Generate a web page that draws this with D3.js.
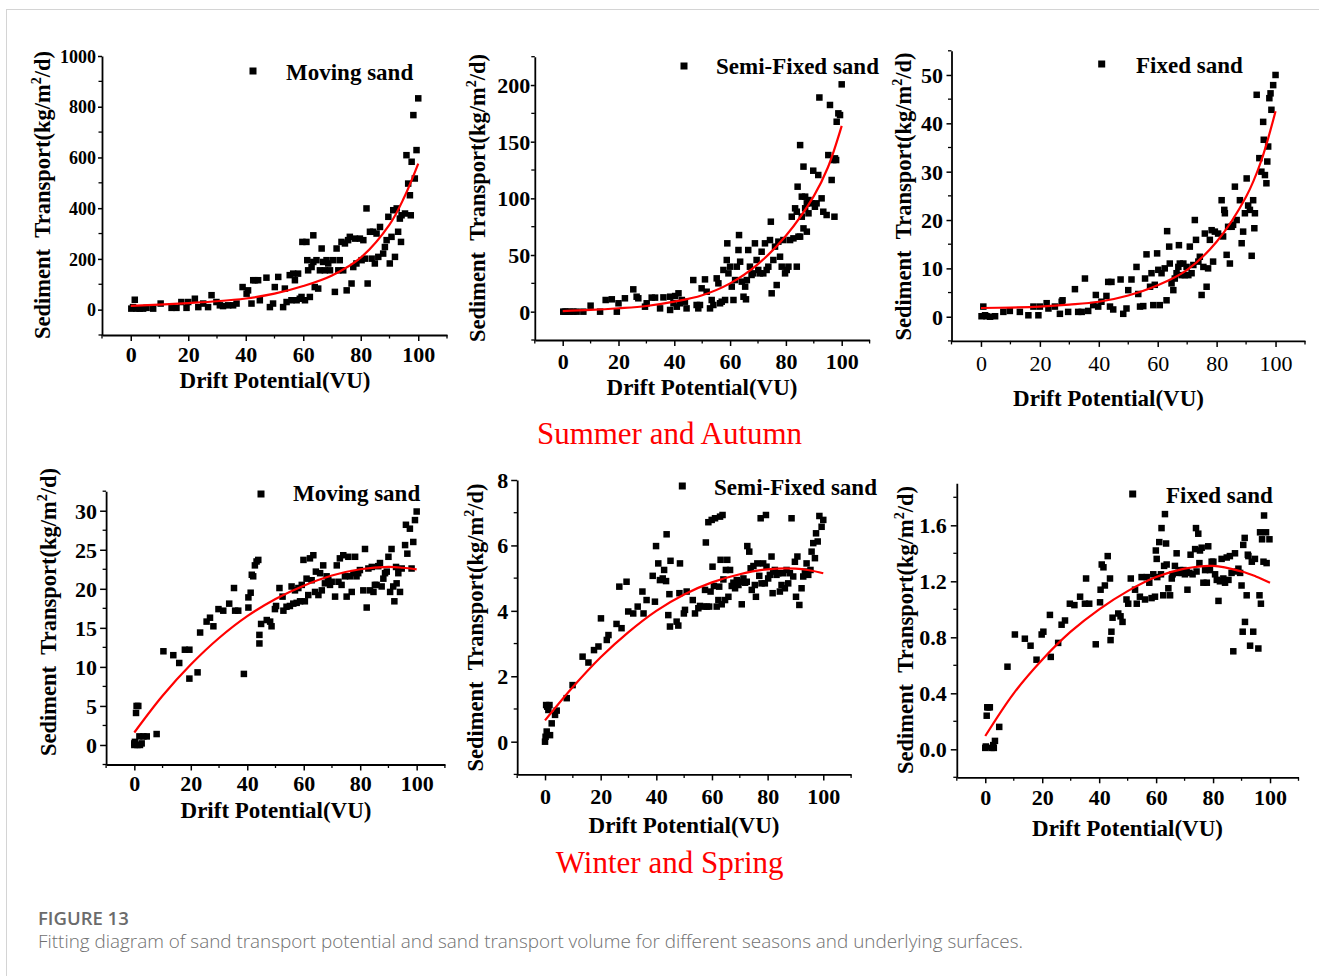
<!DOCTYPE html>
<html><head><meta charset="utf-8">
<script src="https://cdn.jsdelivr.net/npm/d3@7"></script>
<style>
html,body{margin:0;padding:0;background:#fff;}
svg{display:block;}
</style></head><body>
<svg id="c" width="1319" height="976"></svg>
<script>
// ---------- DATA ----------
const xTicks = [0, 20, 40, 60, 80, 100];
const fitX = [0, 10, 20, 30, 40, 50, 60, 70, 80, 90, 95, 100];

const saMovingTicks = [0, 200, 400, 600, 800, 1000];
const saMoving = [[0.2,4],[0.8,10],[1.4,39],[2.0,4],[3.1,4],[4.3,4],[5.5,7],[7.8,4],[10.4,24],[14.2,7],[15.9,7],[17.6,30],[19.4,7],[20,30],[22.3,43],[23.5,10],[25.2,24],[26.9,10],[28.1,57],[29.8,30],[31,17],[32.1,14],[33.9,17],[35.6,17],[36.8,24],[38.9,89],[40.3,63],[40.8,76],[42,24],[42.6,116],[43.2,116],[44.3,116],[44.9,37],[47.2,126],[48.4,10],[49.5,24],[50.1,89],[51.3,129],[53,10],[53.6,83],[54.2,30],[55.3,136],[55.9,37],[56.5,142],[57.1,116],[57.7,37],[58.2,142],[58.8,43],[59.4,50],[59.7,267],[60.6,37],[61.1,267],[61.4,195],[61.7,155],[62.3,50],[62.9,168],[63.5,293],[63.5,188],[64,89],[64.6,195],[65.2,83],[65.8,155],[66.4,241],[66.9,188],[67.5,155],[68.1,195],[68.7,182],[69.3,155],[70.4,195],[71,70],[71.6,241],[72.2,155],[72.7,195],[73.3,267],[73.9,155],[74.5,261],[75.1,76],[75.6,274],[76.2,287],[76.8,103],[77.4,168],[78,280],[78.5,182],[79.7,280],[80.3,195],[80.9,274],[81.4,201],[82,399],[82.4,103],[83.2,307],[83.8,201],[84.3,307],[84.9,182],[85.5,300],[86.1,208],[86.7,326],[87.8,221],[88.4,247],[89,274],[89.6,366],[90.1,182],[90.7,287],[91.3,392],[91.9,208],[92.5,399],[93,307],[93.6,359],[94,267],[94.2,372],[95.4,379],[95.9,609],[96.5,497],[97.1,451],[97.4,372],[97.7,583],[98.3,767],[98.8,517],[99.4,629],[100,833]];
const saMovingFit = [15, 20, 26, 33, 44, 63, 93, 135, 205, 335, 440, 576];

const saSemiTicks = [0, 50, 100, 150, 200];
const saSemi = [[0.2,0],[0.8,0],[1.4,0],[2.6,0],[3.8,0],[5,0],[7.4,0],[10,5.3],[13.4,0],[15.4,10.3],[17.6,10.9],[19.4,0],[20,7.4],[22.3,11.8],[25.3,19.7],[26.5,13.2],[27.1,11.8],[29.5,4.4],[30.1,7.4],[31.9,12.4],[33.1,12.4],[34.9,2.9],[36.1,12.6],[38.5,1.5],[38.5,13.2],[39.7,7.4],[40.3,13.8],[40.9,4.4],[41.5,16.2],[42.1,7.4],[42.7,10.3],[43.8,8.8],[44.4,2.9],[46.8,27.9],[48,5.9],[48.6,2.9],[49.2,5.9],[49.8,20.6],[51,28.5],[51.6,17.6],[52.8,2.9],[53.4,10.3],[54,5.9],[55.2,29.4],[55.8,25],[56.4,7.4],[57,8.8],[57.6,36.8],[58.2,10.3],[58.8,45.6],[59,60.3],[59.4,33.8],[60,39.7],[60.6,22.1],[61.2,10.3],[61.8,27.9],[62.4,39.7],[63,54.4],[63.2,67.6],[63.6,44.1],[64.2,26.5],[64.8,13.2],[65.4,22.1],[65.7,10.9],[66,27.9],[66.5,54.4],[67.1,39.7],[67.7,32.4],[68.3,33.8],[68.9,60.3],[69.5,45.6],[70.1,36.8],[70.7,33.8],[71.3,52.9],[71.9,33.8],[72.5,60.3],[73.1,36.8],[73.7,39.7],[74.3,63.2],[74.6,79.4],[74.9,16.2],[75.5,45.6],[76.1,57.4],[76.7,23.5],[77.3,61.8],[77.9,48.5],[78.5,39.7],[79.1,63.2],[79.7,33.8],[80.3,36.8],[80.9,39.7],[81.5,63.2],[82.1,83.8],[82.7,64.7],[83.3,91.2],[83.9,39.7],[84.5,66.2],[85.1,66.2],[85.7,83.8],[86.3,73.5],[86.9,91.2],[87.5,70.6],[88.1,86.8],[83.9,88.2],[84.2,110.3],[85.1,147],[85.7,101.5],[86.3,128],[86.9,101.5],[87.5,95.6],[88.1,98.5],[89.2,95.6],[89.8,124.4],[90.4,92.6],[91,95.6],[91.6,120.6],[92,189],[92.8,100],[93.4,88.2],[94.6,85.3],[95.2,138.2],[95.8,182.4],[96.4,116.2],[97,133.8],[97.4,83.8],[97.6,135.3],[98,133.8],[98.2,167.6],[98.8,175],[99.4,173.5],[100,200.6]];
const saSemiFit = [0.5, 1.5, 3, 5, 8.8, 14.5, 25, 42, 67, 102, 127, 164];

const saFixedTicks = [0, 10, 20, 30, 40, 50];
const saFixed = [[0.2,0.1],[0.8,2.1],[1.4,0.3],[1.9,0.1],[3.1,0],[4.8,0.1],[7.6,1.0],[9.8,1.2],[13.2,1.0],[16.1,0.3],[17.8,2.1],[19.5,0.3],[20,2.1],[22.3,2.8],[22.9,1.7],[25.1,2.1],[26.8,0.6],[27.4,3.1],[27.7,3.4],[29.6,1.0],[31.9,5.7],[33,1.0],[34.2,1.0],[35.3,7.9],[36.4,1.2],[38.1,2.4],[39,4.5],[39.8,2.1],[40.9,3.1],[42.6,4.3],[43.2,7.2],[43.8,2.1],[44.3,7.2],[44.9,1.5],[47.4,7.7],[48.3,0.6],[49.4,1.7],[50,5.5],[51.1,7.7],[52.8,10.3],[53.4,4.7],[54,2.1],[55.1,2.2],[55.7,7.9],[56.2,12.9],[57.4,6.2],[57.9,9.0],[58.5,2.4],[59,6.6],[59.8,13.1],[60.2,9.7],[60.7,2.4],[61.3,9.0],[62.4,10.0],[63,3.4],[63.2,17.7],[63.9,14.5],[64.1,11.0],[64.7,6.9],[65.3,5.5],[65.8,7.9],[66.4,9.0],[67,10.3],[67.2,14.8],[67.5,11.0],[68.1,8.6],[68.7,11.0],[69.2,8.6],[69.8,10.3],[70.4,8.6],[70.9,14.5],[71.5,9.0],[72.1,10.7],[72.6,20.0],[73,15.9],[73.8,11.4],[74.3,12.4],[74.9,4.5],[75.5,10.3],[76,17.2],[76.6,6.2],[77.1,10.0],[77.7,15.9],[78.3,17.9],[78.8,11.4],[79.4,17.6],[80.5,17.2],[81.7,24.1],[82.2,16.6],[82.6,22.1],[82.8,21.4],[83.4,12.8],[83.9,18.6],[84.5,11.0],[85.1,18.6],[85.6,19.0],[86.2,26.9],[86.8,20.0],[87.9,24.1],[88.5,15.2],[89,17.6],[89.6,21.4],[90.2,28.6],[90.7,23.0],[91.3,22.1],[91.9,12.6],[92.4,24.1],[92.8,18.3],[93,21.4],[93.6,45.9],[94.5,32.8],[95.2,30.0],[95.8,40.3],[96,36.6],[96.4,29.3],[96.9,27.6],[97.2,32.1],[97.5,35.2],[97.9,45.2],[98.3,46.2],[98.6,42.8],[99.2,47.9],[100,50]];
const saFixedFit = [1.8, 1.9, 2.1, 2.5, 3.1, 4.4, 6.5, 9.7, 15.5, 24.8, 32, 42.5];

const wsMovingTicks = [0, 5, 10, 15, 20, 25, 30];
const wsMoving = [[0,0],[0,0.2],[0.2,0.4],[0.6,4.1],[0.8,5.0],[1.1,0],[1.4,5.0],[1.8,1.1],[2,0],[2.6,0.2],[3.2,1.1],[4.4,1.1],[7.9,1.4],[10.3,12.0],[13.8,11.5],[15.9,10.5],[17.9,12.2],[19.5,12.2],[19.5,8.5],[22.4,9.3],[23.3,14.4],[25.6,15.8],[26.8,16.3],[28,15.2],[29.8,17.4],[31.5,17.2],[33.6,18.1],[35.3,20.1],[35.7,17.2],[36.8,17.2],[38.8,9.1],[40.4,17.6],[40.4,18.9],[41.2,19.5],[41.6,21.8],[42.1,21.6],[42.7,23.0],[43.3,23.5],[43.9,23.7],[44.3,13.0],[44.3,14.1],[44.9,15.5],[46.9,16.0],[48.1,15.8],[48.6,15.2],[49.8,17.4],[50.2,17.8],[51.4,20.1],[52.5,19.0],[52.8,17.2],[53.9,17.7],[55.1,17.8],[55.7,20.3],[56.3,18.1],[56.9,19.8],[57.5,18.2],[58.1,20.1],[58.7,18.4],[59.3,20.5],[59.9,23.7],[60.4,18.4],[61,21.3],[61.6,19.2],[62.2,23.9],[62.8,21.1],[63.4,24.3],[64,19.6],[64.3,22.2],[65.2,19.2],[65.8,22.0],[66.4,19.8],[66.9,23.0],[67.5,20.7],[68.1,21.6],[68.7,21.1],[69.3,20.5],[69.9,20.9],[71.1,19.0],[71.7,23.0],[72.3,20.9],[72.8,23.9],[73.4,20.5],[74,24.3],[74.6,21.6],[75.2,19.0],[75.8,24.1],[76.4,21.6],[77,19.6],[77.6,22.0],[78.2,24.1],[78.7,21.6],[79.3,22.0],[79.9,22.4],[81.1,19.8],[81.7,25.1],[82.3,17.6],[82.9,22.6],[83.5,19.8],[84.1,22.8],[84.7,19.6],[85.2,20.5],[85.8,20.5],[86.4,22.9],[87,23.3],[87.6,20.3],[88.2,21.3],[88.8,22.0],[89.4,22.2],[90,24.1],[90.6,19.6],[91.1,25.1],[91.7,20.3],[92.1,18.4],[92.7,22.8],[92.9,20.7],[93.5,22.0],[94.1,19.6],[94.7,22.6],[95.9,25.6],[96.2,28.2],[96.7,24.5],[97.6,27.7],[98.2,22.6],[98.8,26.0],[99.4,28.8],[100,29.9]];
const wsMovingFit = [1.6, 6.3, 10.3, 13.7, 16.5, 18.7, 20.4, 21.7, 22.5, 22.8, 22.7, 22.5];

const wsSemiTicks = [0, 2, 4, 6, 8];
const wsSemi = [[0,0],[0.2,0.15],[0.6,0.31],[0.4,1.12],[0.8,1.07],[1.2,0.97],[1.6,1.12],[1.8,0.2],[2.4,0.56],[3.6,0.82],[4.2,0.95],[7.8,1.33],[9.9,1.73],[13.5,2.6],[15.6,2.42],[17.6,2.8],[19.2,2.91],[20.1,3.77],[22.2,3.11],[22.8,3.26],[25.7,3.6],[26.7,4.74],[27.5,3.47],[29.3,4.89],[29.9,3.98],[31.7,3.92],[33.3,4.13],[35,4.59],[35.4,3.92],[36.5,4.33],[38.7,5.07],[39.5,4.28],[39.9,5.98],[40.7,5.45],[41.3,4.94],[42.3,4.99],[42.8,5.25],[43.5,4.91],[43.7,6.34],[44.3,3.87],[44.7,4.51],[44.9,3.52],[45.1,5.53],[47.3,3.67],[47.9,3.55],[48.3,4.54],[48.5,5.45],[49.9,3.92],[50.3,4.03],[50.9,4.59],[53.1,4.33],[53.9,3.92],[55.1,4.08],[55.7,4.15],[56.9,4.13],[57.5,4.64],[57.8,6.09],[58.1,4.13],[58.7,6.71],[59,4.13],[59.5,4.59],[59.9,6.78],[60.2,5.35],[60.7,4.76],[61.1,6.83],[61.7,4.13],[62.3,4.33],[62.6,4.74],[62.9,6.88],[63.1,5.56],[63.5,4.2],[63.8,6.93],[64.1,4.96],[64.7,4.33],[65,5.25],[65.5,5.56],[65.9,4.43],[66.5,5.25],[67.1,4.76],[67.7,4.86],[68.3,4.69],[68.9,4.94],[69.5,4.79],[70.1,4.89],[70.7,4.2],[71.3,4.99],[71.9,4.86],[72.5,4.89],[72.7,5.98],[73.4,5.81],[73.9,5.3],[74.3,4.64],[74.9,5.37],[75.4,4.79],[75.8,4.43],[76.3,5.45],[77,5.07],[77.5,6.83],[77.8,4.84],[78.4,5.45],[79,4.84],[79.4,6.93],[79.6,5.35],[80.2,4.99],[80.8,5.1],[81.4,5.66],[81.8,4.54],[82,5.2],[82.6,5.25],[83.2,5.1],[83.8,5.15],[84.4,4.59],[85,4.79],[85.6,5.15],[86.2,4.69],[86.8,5.25],[87.4,4.84],[88,5.15],[88.6,6.83],[89.2,5.05],[89.8,5.5],[90.2,4.43],[90.7,5.66],[91.4,4.18],[92.2,4.69],[92.8,5.05],[93.4,5.2],[94,5.45],[94.6,5.1],[95.4,5.25],[95.8,5.81],[96.4,6.07],[97,5.61],[97.4,6.37],[98,6.12],[98.6,6.9],[99.4,6.57],[100,6.78]];
const wsSemiFit = [0.65, 1.67, 2.58, 3.35, 4.0, 4.5, 4.87, 5.12, 5.27, 5.29, 5.24, 5.15];

const wsFixedTicks = [0, 0.4, 0.8, 1.2, 1.6];
const wsFixed = [[0,0.01],[0.2,0.02],[0.5,0.24],[0.7,0.30],[1.1,0.30],[1.6,0.30],[2.2,0.01],[2.8,0.03],[3.0,0.01],[3.4,0.06],[4.9,0.16],[7.8,0.59],[10.4,0.82],[13.9,0.79],[15.9,0.74],[18,0.64],[19.8,0.82],[20.4,0.84],[22.7,0.96],[23,0.66],[25.6,0.76],[26.8,0.89],[28,0.92],[29.7,1.04],[31.3,1.03],[33.3,1.09],[35,1.04],[35.4,1.22],[36.5,1.04],[38.8,0.75],[40.3,1.05],[40.5,1.14],[40.9,1.32],[41.5,1.30],[42,1.17],[43,1.38],[43.8,1.22],[44,0.78],[44.3,0.84],[44.7,0.94],[46.7,0.97],[47.5,0.95],[48.2,0.91],[49.6,1.07],[50.2,1.04],[51.1,1.22],[52.6,1.14],[53.2,1.04],[54.3,1.09],[54.9,1.23],[56.1,1.07],[56.7,1.23],[57.6,1.19],[58.4,1.08],[59,1.25],[59.6,1.09],[59.9,1.42],[60.2,1.36],[60.4,1.23],[61.1,1.48],[61.7,1.25],[61.9,1.58],[62.5,1.10],[62.8,1.31],[63.1,1.68],[63.5,1.47],[63.7,1.32],[64.3,1.15],[64.9,1.10],[65.5,1.22],[65.8,1.25],[66.6,1.31],[67.2,1.40],[67.8,1.26],[68.4,1.28],[69,1.26],[69.6,1.28],[70.1,1.25],[70.7,1.27],[71,1.14],[71.7,1.26],[72.1,1.39],[72.8,1.25],[73.7,1.43],[74,1.58],[74.2,1.27],[74.8,1.54],[75.2,1.33],[75.4,1.42],[76,1.44],[76.6,1.19],[77.2,1.28],[77.8,1.19],[78.3,1.45],[78.9,1.28],[79.5,1.34],[80.1,1.34],[80.7,1.25],[81.3,1.21],[81.9,1.06],[82.4,1.20],[83,1.36],[83.6,1.22],[84.2,1.19],[84.8,1.37],[85.4,1.21],[85.9,1.38],[86.5,1.26],[87.1,0.70],[87.7,1.40],[88.3,1.27],[88.9,1.29],[89.5,1.26],[90,1.17],[90.4,0.84],[90.6,1.46],[91.1,1.51],[91.2,0.91],[91.8,1.10],[92.2,1.39],[92.4,1.38],[93,0.74],[93.6,1.34],[94.1,0.84],[94.7,1.36],[95.9,0.72],[96.3,1.10],[96.5,1.55],[96.8,1.04],[97.2,1.50],[97.7,1.34],[97.9,1.67],[98.6,1.55],[98.8,1.33],[99.8,1.50]];
const wsFixedFit = [0.095, 0.40, 0.64, 0.84, 1.0, 1.13, 1.23, 1.29, 1.31, 1.27, 1.235, 1.19];

const legendNames = ["Moving sand", "Semi-Fixed sand", "Fixed sand", "Moving sand", "Semi-Fixed sand", "Fixed sand"];
const seasonTitles = ["Summer and Autumn", "Winter and Spring"];
const xTitle = "Drift Potential(VU)";
const captionHead = "FIGURE 13";
const captionText = "Fitting diagram of sand transport potential and sand transport volume for different seasons and underlying surfaces.";

// ---------- LAYOUT ----------
const panels = [
  {pts: saMoving, fit: saMovingFit, ticks: saMovingTicks, yDom: [-100, 1000], yMinor: 100, fmt: d3.format("d"), yFont: 18, yTick: 4,
   x0: 102, x1: 447, yT: 56, yB: 335, yLabOff: 2, xLabOff: 27, xTitleX: 275, xTitleY: 388, yTitleX: 42, yTitleY: 195,
   legSq: [253, 71], legText: [286, 80], legend: legendNames[0], xBold: true},
  {pts: saSemi, fit: saSemiFit, ticks: saSemiTicks, yDom: [-25, 225], yMinor: 25, fmt: d3.format("d"), yFont: 22, yTick: 4,
   x0: 534.8, x1: 869.6, yT: 56.7, yB: 340, yLabOff: 0.5, xLabOff: 29, xTitleX: 702, xTitleY: 394.5, yTitleX: 477, yTitleY: 198,
   legSq: [684, 66], legText: [716, 74], legend: legendNames[1], xBold: true},
  {pts: saFixed, fit: saFixedFit, ticks: saFixedTicks, yDom: [-5, 55], yMinor: 5, fmt: d3.format("d"), yFont: 22, yTick: 5,
   x0: 951.5, x1: 1305, yT: 50.8, yB: 340.9, yLabOff: 3.5, xLabOff: 30, xTitleX: 1108.5, xTitleY: 406, yTitleX: 903, yTitleY: 196.5,
   legSq: [1101.7, 64], legText: [1136, 73], legend: legendNames[2], xBold: false},
  {pts: wsMoving, fit: wsMovingFit, ticks: wsMovingTicks, yDom: [-2.5, 32.5], yMinor: 2.5, fmt: d3.format("d"), yFont: 22, yTick: 6,
   x0: 106.1, x1: 444.9, yT: 491.2, yB: 764.5, yLabOff: 3, xLabOff: 26, xTitleX: 276, xTitleY: 818, yTitleX: 48, yTitleY: 612,
   legSq: [261, 494], legText: [293, 501], legend: legendNames[3], xBold: true},
  {pts: wsSemi, fit: wsSemiFit, ticks: wsSemiTicks, yDom: [-1, 8], yMinor: 1, fmt: d3.format("d"), yFont: 22, yTick: 6,
   x0: 517.2, x1: 851.1, yT: 480, yB: 774.4, yLabOff: 3, xLabOff: 29.5, xTitleX: 684, xTitleY: 833, yTitleX: 475, yTitleY: 627.5,
   legSq: [682.3, 486], legText: [714, 494.5], legend: legendNames[4], xBold: true},
  {pts: wsFixed, fit: wsFixedFit, ticks: wsFixedTicks, yDom: [-0.2, 1.9], yMinor: 0.2, fmt: d3.format(".1f"), yFont: 22, yTick: 6,
   x0: 956.8, x1: 1298.5, yT: 483.3, yB: 777.3, yLabOff: 4, xLabOff: 28, xTitleX: 1127.5, xTitleY: 836, yTitleX: 905, yTitleY: 630,
   legSq: [1132.7, 494], legText: [1166, 503], legend: legendNames[5], xBold: true}
];

const svg = d3.select("#c");
const SERIF = "'Liberation Serif','Times New Roman',serif";

// frame
svg.append("line").attr("x1", 6).attr("x2", 1319).attr("y1", 9.5).attr("y2", 9.5).attr("stroke", "#d4d4d4").attr("stroke-width", 1);
svg.append("line").attr("x1", 6.5).attr("x2", 6.5).attr("y1", 9).attr("y2", 976).attr("stroke", "#d4d4d4").attr("stroke-width", 1);

panels.forEach(p => {
  const x = d3.scaleLinear().domain([-10, 110]).range([p.x0, p.x1]);
  const y = d3.scaleLinear().domain(p.yDom).range([p.yB, p.yT]);
  const g = svg.append("g");

  // minor ticks
  const xMinor = d3.range(-10, 111, 10).filter(v => !xTicks.includes(v));
  g.selectAll(null).data(xMinor).enter().append("line")
    .attr("x1", d => x(d)).attr("x2", d => x(d)).attr("y1", p.yB).attr("y2", p.yB + 3.5)
    .attr("stroke", "#000").attr("stroke-width", 1.3);
  const nMin = Math.floor((p.yDom[1] - p.yDom[0]) / p.yMinor + 1e-6);
  const yMinorVals = d3.range(0, nMin + 1).map(i => p.yDom[0] + i * p.yMinor)
    .filter(v => v <= p.yDom[1] + 1e-9 && !p.ticks.some(t => Math.abs(t - v) < 1e-9));
  g.selectAll(null).data(yMinorVals).enter().append("line")
    .attr("x1", p.x0 - 3.5).attr("x2", p.x0).attr("y1", d => y(d)).attr("y2", d => y(d))
    .attr("stroke", "#000").attr("stroke-width", 1.3);

  // axes
  const xa = g.append("g").attr("transform", `translate(0,${p.yB})`)
    .call(d3.axisBottom(x).tickValues(xTicks).tickSize(6).tickSizeOuter(0).tickPadding(0));
  xa.select(".domain").attr("stroke-width", 1.8);
  xa.selectAll(".tick line").attr("stroke-width", 1.5);
  xa.selectAll(".tick text").attr("y", p.xLabOff).attr("dy", 0)
    .attr("font-family", SERIF).attr("font-size", 22).attr("font-weight", p.xBold ? "bold" : "normal").attr("fill", "#000");

  const ya = g.append("g").attr("transform", `translate(${p.x0},0)`)
    .call(d3.axisLeft(y).tickValues(p.ticks).tickFormat(p.fmt).tickSize(p.yTick).tickSizeOuter(0).tickPadding(0));
  ya.select(".domain").attr("stroke-width", 1.8);
  ya.selectAll(".tick line").attr("stroke-width", 1.5);
  ya.selectAll(".tick text").attr("x", -(p.yTick + p.yLabOff)).attr("dy", "0.34em")
    .attr("font-family", SERIF).attr("font-size", p.yFont).attr("font-weight", "bold").attr("fill", "#000");

  // points
  g.selectAll(null).data(p.pts).enter().append("rect")
    .attr("x", d => x(d[0]) - 3.25).attr("y", d => y(d[1]) - 3.25)
    .attr("width", 6.5).attr("height", 6.5).attr("fill", "#000");

  // fit line
  const line = d3.line().x((d, i) => x(fitX[i])).y(d => y(d)).curve(d3.curveCatmullRom.alpha(0.5));
  g.append("path").datum(p.fit).attr("d", line).attr("fill", "none").attr("stroke", "#ff0000").attr("stroke-width", 2.2);

  // legend
  g.append("rect").attr("x", p.legSq[0] - 3.5).attr("y", p.legSq[1] - 3.5).attr("width", 7).attr("height", 7).attr("fill", "#000");
  g.append("text").attr("x", p.legText[0]).attr("y", p.legText[1]).text(p.legend)
    .attr("font-family", SERIF).attr("font-size", 23).attr("font-weight", "bold");

  // x title
  g.append("text").attr("x", p.xTitleX).attr("y", p.xTitleY).attr("text-anchor", "middle").text(xTitle)
    .attr("font-family", SERIF).attr("font-size", 23).attr("font-weight", "bold");

  // y title
  const yt = g.append("text").attr("transform", `translate(${p.yTitleX},${p.yTitleY}) rotate(-90)`)
    .attr("text-anchor", "middle").attr("dy", "0.35em")
    .attr("font-family", SERIF).attr("font-size", 22.5).attr("font-weight", "bold");
  yt.append("tspan").text("Sediment\u00A0\u00A0Transport(kg/m");
  yt.append("tspan").attr("font-size", 14).attr("dy", -9).text("2");
  yt.append("tspan").attr("dy", 9).text("/d)");
});

// season titles
svg.append("text").attr("x", 669.5).attr("y", 444).attr("text-anchor", "middle").text(seasonTitles[0])
  .attr("font-family", SERIF).attr("font-size", 31).attr("fill", "#ff0000");
svg.append("text").attr("x", 669.7).attr("y", 873).attr("text-anchor", "middle").text(seasonTitles[1])
  .attr("font-family", SERIF).attr("font-size", 31).attr("fill", "#ff0000");

// caption
svg.append("text").attr("x", 38).attr("y", 925).text(captionHead)
  .attr("font-family", "'Open Sans',sans-serif").attr("font-size", 18.5).attr("font-weight", 600).attr("fill", "#6b6b6b");
svg.append("text").attr("x", 38).attr("y", 948).text(captionText)
  .attr("textLength", 985).attr("lengthAdjust", "spacingAndGlyphs")
  .attr("font-family", "'Open Sans',sans-serif").attr("font-size", 18.5).attr("font-weight", 300).attr("fill", "#707070");
</script>
</body></html>
